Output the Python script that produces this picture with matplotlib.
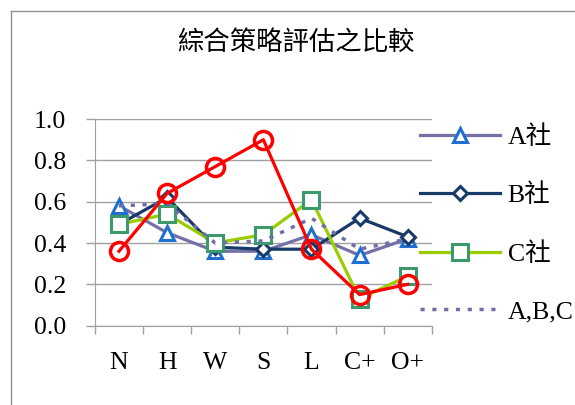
import numpy as np
import matplotlib.pyplot as plt
from matplotlib.lines import Line2D

plt.rcParams['font.family'] = ['Liberation Serif', 'Noto Sans CJK TC']

# データ
categories = ['N', 'H', 'W', 'S', 'L', 'C+', 'O+']
a_vals = [0.58, 0.45, 0.36, 0.36, 0.44, 0.34, 0.42]
b_vals = [0.49, 0.62, 0.38, 0.37, 0.37, 0.52, 0.43]
c_vals = [0.49, 0.54, 0.40, 0.44, 0.61, 0.13, 0.24]
abc_vals = [0.58, 0.59, 0.40, 0.41, 0.52, 0.37, 0.42]
red_vals = [0.36, 0.64, 0.77, 0.90, 0.37, 0.15, 0.20]
series_labels = ['A社', 'B社', 'C社', 'A,B,C']
title = '綜合策略評估之比較'

fig = plt.figure(figsize=(5.75, 4.05), dpi=100)
ax = fig.add_axes([0.165, 0.196, 0.586, 0.510])
x = np.arange(len(categories))

# 各系列の描画
ha, = ax.plot(x, a_vals, color='#7470A8', lw=2.3, marker='^', ms=10,
              mfc='white', mec='#1E6FD0', mew=2.2)
hb, = ax.plot(x, b_vals, color='#183A68', lw=2.3, marker='D', ms=7.5,
              mfc='white', mec='#183A68', mew=2.2)
hc, = ax.plot(x, c_vals, color='#9ACD00', lw=2.3, marker='s', ms=11,
              mfc='white', mec='#3C9A6A', mew=2.2)
hd, = ax.plot(x, abc_vals, color='#6E6EA8', lw=2.5, ls=(0, (1.2, 2.2)))
ax.plot(x, red_vals, color='#FF0000', lw=2.3, marker='o', ms=13,
        mfc='none', mec='#FF0000', mew=2.5)

ax.set_xlim(-0.5, len(categories) - 0.5)
ax.set_ylim(0, 1.0)
ax.set_yticks(np.arange(0, 1.01, 0.2))
ax.set_yticklabels(['%.1f' % v for v in np.arange(0, 1.01, 0.2)], fontsize=18.5)
ax.set_xticks(x)
ax.set_xticklabels(categories, fontsize=18.5)
ax.set_xticks(np.arange(-0.5, len(categories), 1.0), minor=True)
ax.tick_params(axis='x', which='major', length=0, pad=19)
ax.tick_params(axis='x', which='minor', length=5.5, color='#A0A0A0', width=1)
ax.tick_params(axis='y', length=6.5, color='#A0A0A0', width=1, pad=14)
ax.grid(axis='y', color='#A0A0A0', lw=1)
for s in ['top', 'right']:
  ax.spines[s].set_visible(False)
for s in ['left', 'bottom']:
  ax.spines[s].set_color('#A0A0A0')
ax.set_axisbelow(True)

fig.text(0.515, 0.896, title, ha='center', va='center', fontsize=19,
         family=['Noto Sans CJK TC'], weight='medium')

leg = fig.legend([ha, hb, hc, hd], series_labels, loc='upper left',
                 bbox_to_anchor=(0.713, 0.716), frameon=False, fontsize=18.5,
                 handlelength=3.1, labelspacing=1.35, handletextpad=0.3,
                 borderaxespad=0)

# 外枠
fig.add_artist(Line2D([11/575, 11/575], [0, 1 - 11/405], color='#909090', lw=1))
fig.add_artist(Line2D([11/575, 1], [1 - 11/405, 1 - 11/405], color='#909090', lw=1))

fig.savefig('out.png', dpi=100)
